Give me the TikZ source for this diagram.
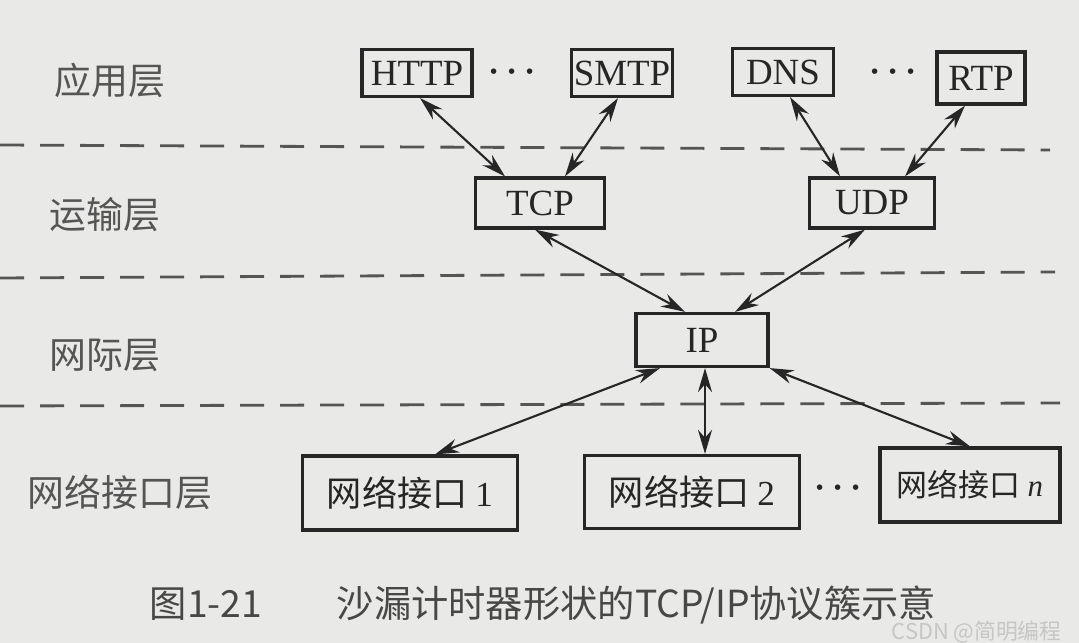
\documentclass[tikz,border=0pt]{standalone}
\usepackage{fontspec}
\setmainfont{Liberation Serif}
\newfontfamily\cjk{Noto Sans CJK SC}
\usetikzlibrary{arrows.meta,calc}
\definecolor{paper}{RGB}{233,233,231}
\definecolor{ink}{RGB}{38,38,38}
\definecolor{label}{RGB}{85,85,85}

\begin{document}
\begin{tikzpicture}[x=0.01cm,y=-0.01cm,
  proto/.style={draw=ink,line width=0.9pt,inner sep=0pt,minimum width=1cm,minimum height=0.47cm,text=ink,font=\fontsize{10.5}{12}\selectfont},
  iface/.style={proto,minimum width=2.15cm,minimum height=0.74cm,font=\cjk\fontsize{10}{12}\selectfont},
  layer/.style={text=label,font=\cjk\fontsize{10.5}{12}\selectfont},
  dotted row/.style={text=ink,font=\boldmath},
  arrow/.style={{Stealth[length=2.4mm,width=1.4mm]}-{Stealth[length=2.4mm,width=1.4mm]},draw=ink,line width=0.6pt},
  divider/.style={draw=label,line width=0.8pt,dash pattern=on 2.4mm off 1.6mm}
]
\fill[paper] (0,0) rectangle (1079,643);
\useasboundingbox (0,0) rectangle (1079,643);

% layers
\node[layer] (app) at (110,80) {应用层};
\node[layer] (trans) at (105,215) {运输层};
\node[layer] (inet) at (105,355) {网际层};
\node[layer] (link) at (120,492) {网络接口层};
\draw[divider] (0,145) -- (1050,150);
\draw[divider] (0,278) -- (1055,272);
\draw[divider] (0,406) -- (1060,403);

% application layer
\node[proto,minimum width=1.1cm] (http) at (417,73) {HTTP};
\node[dotted row] (dots1) at (512,72) {$\cdots$};
\node[proto,minimum width=1.01cm] (smtp) at (622,73) {SMTP};
\node[proto,minimum width=1.01cm] (dns) at (783,72) {DNS};
\node[dotted row] (dots2) at (893,72) {$\cdots$};
\node[proto,minimum width=0.88cm,minimum height=0.52cm] (rtp) at (981,78) {RTP};

% transport and internet layer
\node[proto,minimum width=1.29cm,minimum height=0.5cm] (tcp) at (540,203) {TCP};
\node[proto,minimum width=1.25cm,minimum height=0.5cm] (udp) at (872,203) {UDP};
\node[proto,minimum width=1.32cm,minimum height=0.53cm] (ip) at (702,340) {IP};

% network interfaces
\node[iface] (if1) at (410,493) {网络接口 {\rmfamily 1}};
\node[iface,minimum height=0.73cm] (if2) at (692,492) {网络接口 {\rmfamily 2}};
\node[dotted row] (dots3) at (838,488) {$\cdots$};
\node[iface,minimum width=1.8cm,font=\cjk\fontsize{8.8}{10}\selectfont] (ifn) at (970,485) {网络接口 {\rmfamily\itshape n}};

\draw[arrow] ($(http.south)+(3,0)$) -- ($(tcp.north)+(-35,0)$);
\draw[arrow] ($(smtp.south)+(-4,0)$) -- ($(tcp.north)+(25,0)$);
\draw[arrow] ($(dns.south)+(7,0)$) -- ($(udp.north)+(-32,0)$);
\draw[arrow] ($(rtp.south)+(-16,0)$) -- ($(udp.north)+(33,0)$);
\draw[arrow] ($(tcp.south)+(-5,0)$) -- ($(ip.north)+(-17,0)$);
\draw[arrow] ($(udp.south)+(-7,0)$) -- ($(ip.north)+(33,0)$);
\draw[arrow] ($(ip.south)+(-42,0)$) -- ($(if1.north)+(25,0)$);
\draw[arrow] ($(ip.south)+(3,0)$) -- ($(if2.north)+(13,0)$);
\draw[arrow] (ip.south east) -- (ifn.north);

\node[text=ink!85,font=\cjk\fontsize{10.6}{12}\selectfont] (caption) at (543,605) {图1-21\hspace{2em}沙漏计时器形状的TCP/IP协议簇示意};
\node[text=gray!45,font=\cjk\fontsize{6.2}{8}\selectfont,anchor=east] (mark) at (1074,632) {CSDN @简明编程};
\end{tikzpicture}
\end{document}
